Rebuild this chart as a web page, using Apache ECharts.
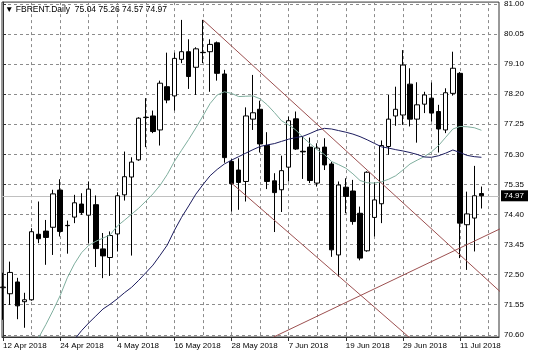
<!DOCTYPE html>
<html><head><meta charset="utf-8">
<script src="https://cdn.jsdelivr.net/npm/echarts@6/dist/echarts.min.js"></script>
<style>html,body{margin:0;padding:0;background:#fff}#c{width:536px;height:357px}</style>
</head><body><div id="c"></div>
<script>
const symbolName = 'FBRENT.Daily';
const opens = [72.08,71.89,72.26,71.64,71.70,73.76,73.86,73.98,75.15,74.04,
  74.30,74.71,74.36,74.69,73.30,73.03,73.77,75.00,75.56,76.10,
  77.43,77.48,77.04,78.40,78.11,79.26,79.50,79.01,79.48,79.50,
  79.78,78.80,76.05,75.78,75.42,77.38,77.69,76.55,75.44,75.16,
  75.87,77.39,76.37,76.50,75.37,76.50,75.97,73.11,75.24,75.12,
  74.42,73.24,74.29,74.72,76.52,77.48,77.51,78.48,77.38,77.85,
  78.04,77.62,77.04,78.19,78.82,74.06,74.27,75.04];
const highs = [72.55,72.90,72.39,71.92,73.95,74.79,74.21,75.16,75.49,74.19,
  75.00,75.05,75.42,74.98,73.80,73.85,75.08,76.36,76.18,77.44,
  78.04,77.65,78.59,79.47,79.47,80.50,79.89,79.64,80.50,79.89,
  79.82,78.93,76.12,76.15,77.75,78.77,77.96,76.97,75.68,76.23,
  77.46,77.62,76.82,76.80,76.62,76.78,76.04,75.42,75.52,75.47,
  74.63,75.74,75.39,76.71,78.14,78.40,79.55,78.98,78.54,78.24,
  78.53,77.83,78.35,79.50,78.86,75.10,75.91,75.26];
const lows = [71.07,71.54,71.09,70.82,71.67,73.48,72.80,73.11,73.69,73.15,
  74.11,74.37,73.48,72.73,72.38,72.45,73.22,74.82,73.09,76.07,
  76.50,76.94,76.55,77.88,77.65,79.14,78.33,78.14,79.14,78.24,
  78.59,76.01,74.47,74.53,74.79,77.04,76.33,75.18,73.83,74.46,
  75.42,76.41,75.50,75.37,75.26,75.78,73.05,72.43,74.42,74.06,
  72.94,73.21,73.69,74.11,76.26,77.17,77.20,77.15,76.64,77.57,
  77.30,76.33,76.94,78.12,73.01,72.64,73.22,74.57];
const closes = [72.10,72.56,71.51,71.70,73.84,73.62,73.66,75.03,73.85,74.03,
  74.75,74.44,75.18,73.31,73.08,73.72,74.97,75.57,76.03,77.41,
  77.44,76.99,78.51,77.98,79.29,79.50,78.72,79.59,79.47,79.73,
  78.82,76.17,75.35,75.39,77.48,77.58,76.60,75.42,75.07,75.76,
  77.33,76.44,76.35,75.45,76.47,75.94,73.27,75.31,74.95,74.16,
  73.01,75.71,74.84,76.55,77.38,77.69,79.08,77.38,77.83,78.14,
  77.57,77.07,78.21,78.98,74.11,74.40,74.97,74.97];
const maFast = [null,null,null,null,null,70.51,70.92,71.36,71.83,72.39,
  72.83,73.18,73.41,73.54,73.64,73.74,74.02,74.20,74.39,74.58,
  74.80,75.03,75.30,75.64,76.05,76.40,76.74,77.10,77.48,77.87,
  78.14,78.24,78.19,78.09,78.10,78.11,78.02,77.83,77.59,77.33,
  77.20,77.04,76.81,76.61,76.42,76.27,76.05,75.95,75.84,75.66,
  75.45,75.38,75.37,75.41,75.49,75.60,75.78,75.97,76.09,76.20,
  76.35,76.55,76.81,77.07,77.15,77.14,77.11,77.03];
const maSlow = [null,null,null,null,null,null,null,null,null,null,
  70.45,70.73,70.97,71.19,71.41,71.56,71.73,71.92,72.09,72.31,
  72.55,72.79,73.10,73.42,73.88,74.29,74.65,75.02,75.32,75.60,
  75.80,75.97,76.09,76.20,76.31,76.42,76.52,76.57,76.61,76.68,
  76.75,76.80,76.84,76.93,77.03,77.09,77.07,77.02,76.97,76.91,
  76.83,76.73,76.62,76.51,76.47,76.42,76.38,76.33,76.27,76.19,
  76.18,76.23,76.31,76.41,76.33,76.24,76.20,76.18];
const trendUpper = [[28, 80.50], [69.6, 71.96]];
const trendLower = [[32, 75.37], [69.6, 68.04]];
const trendRising = [[37.9, 70.53], [69.6, 73.93]];
const xTickLabels = ['12 Apr 2018','24 Apr 2018','4 May 2018','16 May 2018','28 May 2018','7 Jun 2018','19 Jun 2018','29 Jun 2018','11 Jul 2018'];
const yTickLabels = ['70.60','71.55','72.50','73.45','74.40','75.35','76.30','77.25','78.20','79.10','80.05','81.00'];
const lastPrice = 74.97;

const xLabelStep = 8, xGridStep = 4;
const xLabelValues = xTickLabels.map((s, k) => k * xLabelStep);
const xGridValues = [];
for (let v = xGridStep; v <= 68; v += xGridStep) xGridValues.push(v);
const yLo = parseFloat(yTickLabels[0]), yHi = parseFloat(yTickLabels[yTickLabels.length - 1]);
const yStep = (yHi - yLo) / (yTickLabels.length - 1);
const yTickValues = yTickLabels.map((s, k) => yLo + k * yStep);

const candleData = opens.map((o, i) => [i, o, closes[i], lows[i], highs[i]]);
const toLine = arr => arr.map((v, i) => [i, v]);

const font = '"Liberation Sans", Arial, sans-serif';
const gridLineStyle = {color: '#8c8c8c', type: [3, 3], width: 1};
const chart = echarts.init(document.getElementById('c'), null, {renderer: 'canvas'});
chart.setOption({
  animation: false,
  backgroundColor: '#fff',
  grid: {left: 2, right: 37, top: 2, bottom: 20, show: true, borderColor: '#333', borderWidth: 1},
  graphic: [{
    type: 'text', left: 5, top: 5, z: 100,
    style: {text: '\u25BC ' + symbolName + '  ' + [opens[67], highs[67], lows[67], closes[67]].map(v => v.toFixed(2)).join(' '),
      font: '8.5px ' + font, fill: '#000'}
  }],
  xAxis: [{
    type: 'value', min: -0.14, max: 69.46,
    axisLine: {show: true, onZero: false, lineStyle: {color: '#333'}},
    axisTick: {show: true, length: 4, customValues: xLabelValues, lineStyle: {color: '#333'}},
    axisLabel: {customValues: xLabelValues, align: 'left', margin: 5, color: '#000', fontSize: 8, fontFamily: font,
      formatter: v => xTickLabels[Math.round(v / xLabelStep)]},
    splitLine: {show: false}
  }, {
    type: 'value', min: -0.14, max: 69.46, position: 'bottom',
    axisLine: {show: false}, axisLabel: {show: false},
    axisTick: {show: false, customValues: xGridValues},
    splitLine: {show: true, lineStyle: gridLineStyle}
  }],
  yAxis: {
    type: 'value', position: 'right', min: 70.53, max: 81.06, scale: true,
    axisLine: {show: true, lineStyle: {color: '#333'}},
    axisTick: {show: true, length: 3, customValues: yTickValues, lineStyle: {color: '#333'}},
    axisLabel: {customValues: yTickValues, margin: 5, color: '#000', fontSize: 8, fontFamily: font,
      formatter: v => yTickLabels[Math.round((v - yLo) / yStep)]},
    splitLine: {show: true, lineStyle: gridLineStyle}
  },
  series: [{
    type: 'line', data: [], z: 1, silent: true,
    markLine: {
      symbol: 'none', silent: true, z: 1,
      data: [{yAxis: lastPrice}],
      lineStyle: {color: '#c0c0c0', type: 'solid', width: 1},
      label: {show: true, position: 'end', distance: 2, formatter: lastPrice.toFixed(2),
        color: '#fff', backgroundColor: '#000', padding: [2, 4, 1, 3], fontSize: 8, fontFamily: font}
    }
  }, {
    type: 'candlestick', data: candleData, encode: {x: 0, y: [1, 2, 3, 4]}, z: 3,
    barWidth: 5,
    itemStyle: {color: '#fff', color0: '#000', borderColor: '#000', borderColor0: '#000', borderWidth: 1}
  }, {
    type: 'line', data: toLine(maFast), symbol: 'none', z: 4,
    lineStyle: {color: '#7fae9e', width: 1}
  }, {
    type: 'line', data: toLine(maSlow), symbol: 'none', z: 4,
    lineStyle: {color: '#1c1c5e', width: 1}
  }, {
    type: 'line', data: trendUpper, symbol: 'none', z: 5, lineStyle: {color: '#9c5050', width: 1}
  }, {
    type: 'line', data: trendLower, symbol: 'none', z: 5, lineStyle: {color: '#9c5050', width: 1}
  }, {
    type: 'line', data: trendRising, symbol: 'none', z: 5, lineStyle: {color: '#9c5050', width: 1}
  }]
});
</script></body></html>
